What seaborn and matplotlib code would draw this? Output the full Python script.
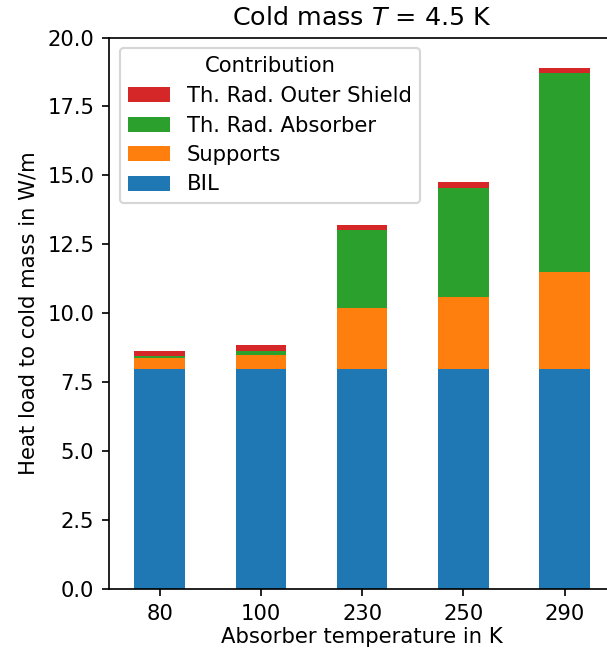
import matplotlib
matplotlib.use("Agg")
import matplotlib.pyplot as plt
import seaborn as sns
import pandas as pd
import numpy as np

temperatures = ["80", "100", "230", "250", "290"]
bil = [8.0, 8.0, 8.0, 8.0, 8.0]
supports = [0.40, 0.51, 2.18, 2.59, 3.51]
absorber = [0.05, 0.11, 2.86, 3.94, 7.20]
outer_shield = [0.20, 0.22, 0.18, 0.22, 0.19]

layers = ["BIL", "Supports", "Th. Rad. Absorber", "Th. Rad. Outer Shield"]
layer_values = [bil, supports, absorber, outer_shield]
colors = {"BIL": "#1f77b4", "Supports": "#ff7f0e",
          "Th. Rad. Absorber": "#2ca02c", "Th. Rad. Outer Shield": "#d62728"}

cum = np.cumsum(np.array(layer_values), axis=0)
rows = []
for name, vals in zip(layers, cum):
    for t, v in zip(temperatures, vals):
        rows.append({"temp": t, "value": v, "Contribution": name})
df = pd.DataFrame(rows)

hue_order = layers[::-1]

DPI = 152
fig = plt.figure(figsize=(607/DPI, 650/DPI), dpi=DPI)
ax = fig.add_axes([109/607, 1-589.3/650, 506.25/607, 551.8/650])
sns.barplot(data=df, x="temp", y="value", hue="Contribution",
            hue_order=hue_order, order=temperatures, dodge=False,
            palette=colors, saturation=1, width=0.5, linewidth=0, ax=ax)

ax.set_xlim(-0.5, 4.5)
ax.set_ylim(0, 20)
ax.set_yticks(np.arange(0, 20.01, 2.5))
ax.set_yticklabels([f"{v:.1f}" for v in np.arange(0, 20.01, 2.5)])
ax.set_xlabel("Absorber temperature in K", labelpad=1.5)
ax.set_ylabel("Heat load to cold mass in W/m")
ax.set_title("Cold mass $T$ = 4.5 K")
ax.spines["right"].set_visible(False)
ax.legend(title="Contribution", loc="upper left", labelspacing=0.45)

fig.savefig("out.png", dpi=DPI)
